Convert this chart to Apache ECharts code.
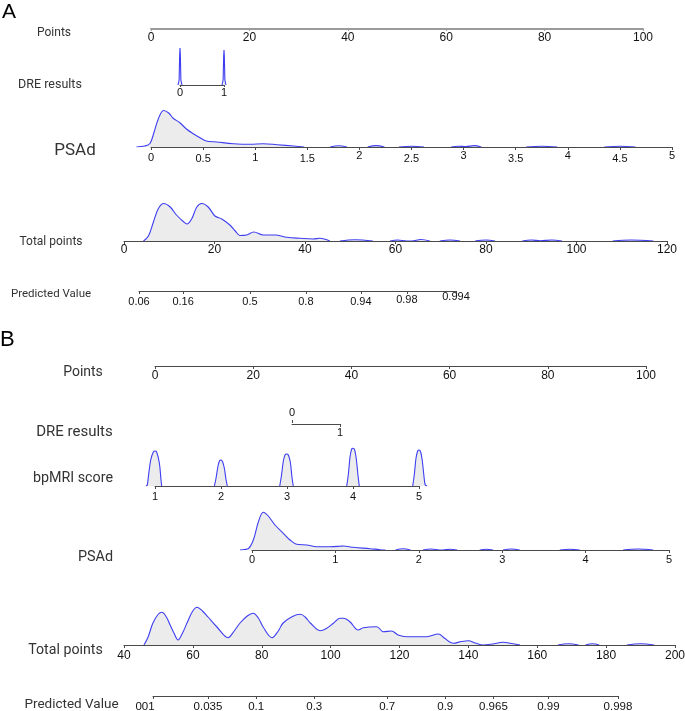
<!DOCTYPE html>
<html><head><meta charset="utf-8">
<script src="https://cdn.jsdelivr.net/npm/echarts@6/dist/echarts.min.js"></script>
<style>html,body{margin:0;padding:0;background:#fff}#c{width:685px;height:711px}</style>
</head><body><div id="c"></div>
<script>
// ---------------- DATA ----------------
const rowNamesA = ['Points', 'DRE results', 'PSAd', 'Total points', 'Predicted Value'];
const rowNamesB = ['Points', 'DRE results', 'bpMRI score', 'PSAd', 'Total points', 'Predicted Value'];
const panelNames = ['A', 'B'];

const predA_values = [0.06, 0.16, 0.5, 0.8, 0.94, 0.98, 0.994];
const predA_labels = ['0.06', '0.16', '0.5', '0.8', '0.94', '0.98', '0.994'];
const predB_values = [0.01, 0.035, 0.1, 0.3, 0.7, 0.9, 0.965, 0.99, 0.998];
const predB_labels = ['001', '0.035', '0.1', '0.3', '0.7', '0.9', '0.965', '0.99', '0.998'];

const dreA_density = [[-0.045,0],[-0.02,5],[-0.008,30],[0,37],[0.008,30],[0.02,5],[0.045,0],[0.5,'-'],
  [0.955,0],[0.98,5],[0.992,28],[1,35],[1.008,28],[1.02,5],[1.045,0]];

const psadA_density = [[-0.14,0],[-0.06,1],[-0.01,3.5],[0.03,15],[0.07,28],[0.12,36.5],[0.17,34],[0.21,29],
  [0.28,24],[0.34,18],[0.41,13],[0.47,9.3],[0.53,6],[0.63,5],[0.79,3.3],[0.95,2.7],[1.08,3.3],[1.21,2.3],
  [1.37,1],[1.47,0],[1.6,'-'],[1.72,0],[1.8,1.2],[1.88,0],[2.0,'-'],[2.08,0],[2.16,1.4],[2.24,0],[2.3,'-'],
  [2.38,0],[2.5,0.8],[2.62,0],[2.7,'-'],[2.88,0],[2.95,0.8],[3.02,0.4],[3.1,1.4],[3.17,0],[3.3,'-'],
  [3.6,0],[3.75,0.8],[3.9,0],[4.1,'-'],[4.35,0],[4.5,0.8],[4.65,0]];

const totalA_density = [[4.3,0],[5.4,5],[6.5,19],[7.6,32.5],[8.8,37.5],[10.2,34],[11.6,26],[13.1,19.5],
  [13.9,17],[15,22.5],[16.1,34],[17.2,37.5],[18.6,34],[20.1,25],[21.6,22],[23.4,16],[24.6,10],[25.6,5.5],
  [27.1,6],[28.7,9],[30.8,6],[33.4,6],[36,3.7],[38.9,2.7],[41.8,2],[43.3,2.7],[45.5,0],[46.5,'-'],
  [47.7,0],[51,1.2],[55,0],[57,'-'],[58.8,0],[60.5,1],[62.5,0],[63.6,0],[65.6,1.5],[67.6,0],[68.5,'-'],
  [69.8,0],[72,1],[74.3,0],[76,'-'],[77.6,0],[80,1],[82,0],[85,'-'],[88,0],[90,1],[92,0.3],[94.5,1],
  [96.8,0],[100,'-'],[108,0],[112,1],[117,0]];

const bpmri_density = [[0.864,0],[0.883,1],[0.899,9],[0.935,26],[0.975,34],[1.0,35],[1.025,34],[1.066,23],
  [1.091,6],[1.101,0],[1.5,'-'],
  [1.90,0],[1.925,8],[1.955,20],[1.98,25.5],[2.0,26],[2.025,24],[2.05,18],[2.075,7],[2.095,0],[2.5,'-'],
  [2.89,0],[2.915,10],[2.945,25],[2.97,31],[2.995,32],[3.02,31],[3.05,24],[3.075,9],[3.095,0],[3.5,'-'],
  [3.905,0],[3.93,12],[3.955,29],[3.98,37],[4.0,37.7],[4.025,36],[4.05,27],[4.075,11],[4.095,0],[4.5,'-'],
  [4.905,0],[4.93,12],[4.955,28],[4.98,35],[5.0,36],[5.025,34],[5.05,25],[5.075,10],[5.095,1],[5.125,0]];

const psadB_density = [[-0.144,0],[-0.09,0.5],[-0.044,1.3],[0.016,10],[0.076,28],[0.135,37.7],[0.195,34],
  [0.276,25],[0.375,16.7],[0.456,10],[0.536,5.7],[0.656,5],[0.776,3.3],[0.935,3.3],[1.055,3.7],[1.095,4],
  [1.215,2.7],[1.415,1.3],[1.535,0.3],[1.6,0],[1.65,'-'],[1.72,0],[1.81,1.2],[1.9,0],[1.95,'-'],
  [2.05,0],[2.15,1],[2.25,0],[2.29,0],[2.37,0.8],[2.46,0],[2.6,'-'],[2.73,0],[2.81,0.8],[2.89,0],[2.95,'-'],
  [3.01,0],[3.11,1],[3.21,0],[3.4,'-'],[3.69,0],[3.81,0.8],[3.93,0],[4.2,'-'],[4.45,0],[4.63,1],[4.81,0]];

const totalB_density = [[45.8,0],[47,8],[48.4,22],[50,31],[51,32.7],[52.3,28],[53.4,20],[54.5,12],[55.7,5],
  [57,12],[58.3,22],[59.8,33],[61.2,37.7],[62.8,34],[64.4,28],[67,18],[70.2,7.3],[72,14],[73.7,22],
  [75.8,29],[77.5,31.7],[79,27],[80.4,18],[83,7.3],[84.8,14],[86.2,22],[88.8,28.3],[91.2,30.7],[92.6,28],
  [94.1,22],[97,14.3],[98.5,16],[100.8,21.7],[102.7,26.7],[103.7,26.7],[105.6,23.3],[108,15],[109.5,17.3],
  [113.4,18.3],[115.3,13.3],[117.7,14],[119.6,10],[122.1,8.3],[127.9,8.3],[131.3,11],[133,7],[135.6,1.7],
  [138,3.5],[140,4.3],[142,2],[144.3,0],[147,1],[150.1,2.7],[153,1.2],[155,0],[160,'-'],
  [166,0],[169,1.2],[172,0],[173,'-'],[174,0],[176,1.2],[178,0],[182,'-'],[186,0],[190,1.2],[194,0]];

// ---------------- LAYOUT ----------------
const logit = p => Math.log(p / (1 - p));
const LINE = '#4a4a4a';
const BLUE = '#3d3df2';
const FILL = '#ececec';

const rows = [
  {key:'pointsA', x0:151, x1:643, y:29,  h:1,  min:0, max:100, interval:20, font:12, margin:3, tick:2, color:'#9a9a9a', width:2},
  {key:'dreA',    x0:180, x1:224, y:85,  h:40, min:0, max:1, interval:1, font:11, margin:2.5, tick:2, pad:0.2},
  {key:'psadA',   x0:151, x1:672, y:147, h:40, min:0, max:5, interval:0.5, font:11, margin:3.5, tick:3, jitter:true, pad:0.3},
  {key:'totalA',  x0:124, x1:667, y:241, h:40, min:0, max:120, interval:20, font:12, margin:3, tick:3, pad:5},
  {key:'predA',   x0:139, x1:456, y:291, h:1,  pred:'A', font:11, margin:0, tick:3},
  {key:'pointsB', x0:155, x1:646, y:366, h:1,  min:0, max:100, interval:20, font:12, margin:4, tick:3},
  {key:'dreB',    x0:292, x1:340, y:424, h:1,  min:0, max:1, font:11, margin:3.5, tick:3, dreB:true},
  {key:'bpmri',   x0:155, x1:419, y:486, h:40, min:1, max:5, interval:1, font:11, margin:5, tick:3, pad:0.3},
  {key:'psadB',   x0:252, x1:669, y:550, h:40, min:0, max:5, interval:1, font:11, margin:4.5, tick:3, pad:0.3},
  {key:'totalB',  x0:124, x1:675, y:645, h:40, min:40, max:200, interval:20, font:12, margin:4.5, tick:3, pad:5},
  {key:'predB',   x0:153, x1:618, y:696, h:1,  pred:'B', font:11.5, margin:4.5, tick:3}
];

const densities = {dreA: dreA_density, psadA: psadA_density, totalA: totalA_density,
  bpmri: bpmri_density, psadB: psadB_density, totalB: totalB_density};

const rowLabelPos = [
  {x:54, y:33, size:12}, {x:50, y:85, size:12.5}, {x:75, y:151, size:17}, {x:51, y:241.5, size:12}, {x:51, y:294.5, size:11.5},
  {x:83, y:372, size:14}, {x:74.5, y:432, size:15}, {x:73, y:478.5, size:14.3}, {x:95.5, y:557.5, size:14.4},
  {x:65.5, y:650, size:14.2}, {x:71.5, y:705, size:13.5}
];
const panelPos = [{x:2, y:12.5, size:21}, {x:0, y:340, size:22}];

const TICKFONT = 'Liberation Sans, Arial, sans-serif';
const ROWFONT = 'Roboto, sans-serif';

// ---------------- BUILD ----------------
const grid = [], xAxis = [], yAxis = [], series = [];

rows.forEach((r, i) => {
  const gi = grid.length;
  grid.push({left:r.x0, width:r.x1 - r.x0, top:r.y - r.h, height:r.h, containLabel:false, outerBoundsMode:'none'});
  yAxis.push({gridIndex:gi, type:'value', show:false, min:0, max:r.h});
  const lineColor = r.color || LINE;
  const base = {
    type:'value', gridIndex:gi, position:'bottom', z:3,
    splitLine:{show:false},
    axisLine:{show:true, onZero:false, lineStyle:{color:lineColor, width:r.width || 1}},
    axisTick:{show:true, length:r.tick, lineStyle:{color:lineColor, width:1}},
    axisLabel:{show:true, margin:r.margin, fontSize:r.font, fontFamily:TICKFONT, color:'#111'}
  };
  if (r.pred) {
    const vals = r.pred === 'A' ? predA_values : predB_values;
    const labs = r.pred === 'A' ? predA_labels : predB_labels;
    const pos = vals.map(logit);
    base.min = pos[0]; base.max = pos[pos.length - 1];
    base.axisTick.customValues = pos;
    base.axisLabel.customValues = pos;
    base.axisLabel.formatter = v => {
      let k = 0, best = Infinity;
      pos.forEach((p, j) => { const d = Math.abs(p - v); if (d < best) { best = d; k = j; } });
      const t = labs[k];
      if (r.pred === 'A') return t === '0.994' ? '{u|' + t + '}' : (t === '0.98' ? '{m|' + t + '}' : '{d|' + t + '}');
      return k === 0 ? '{l|' + t + '}' : '{n|' + t + '}';
    };
    const rs = {fontSize:r.font, fontFamily:TICKFONT, color:'#111'};
    base.axisLabel.rich = {
      u: Object.assign({}, rs), m: Object.assign({padding:[3.5,0,0,0]}, rs), d: Object.assign({padding:[5,0,0,0]}, rs),
      l: Object.assign({padding:[0,16,0,0]}, rs), n: Object.assign({}, rs)
    };
    xAxis.push(base);
  } else if (r.dreB) {
    base.min = r.min; base.max = r.max;
    base.axisTick.customValues = [1];
    base.axisLabel.customValues = [1];
    xAxis.push(base);
    xAxis.push({
      type:'value', gridIndex:gi, position:'top', min:r.min, max:r.max, z:3,
      splitLine:{show:false},
      axisLine:{show:false, onZero:false},
      axisTick:{show:true, length:3, customValues:[0], lineStyle:{color:lineColor}},
      axisLabel:{show:true, customValues:[0], margin:4.5, fontSize:r.font, fontFamily:TICKFONT, color:'#111'}
    });
  } else {
    base.min = r.min; base.max = r.max; base.interval = r.interval;
    if (r.jitter) {
      const rs = {fontSize:r.font, fontFamily:TICKFONT, color:'#111'};
      base.axisLabel.formatter = v => (Math.round(v * 2) % 2 ? '{lo|' + v + '}' : (v === 0 || v === 1 ? '{md|' + v + '}' : '{hi|' + v + '}'));
      base.axisLabel.rich = {lo: Object.assign({padding:[2.5,0,0,0]}, rs), md: Object.assign({padding:[1.5,0,0,0]}, rs), hi: Object.assign({}, rs)};
    }
    xAxis.push(base);
  }
});

// density rows: a hidden, slightly wider grid on the same scale so curves can run past the axis ends
rows.forEach(r => {
  const d = densities[r.key];
  if (!d) return;
  const pxPerUnit = (r.x1 - r.x0) / (r.max - r.min);
  const emin = r.min - r.pad, emax = r.max + r.pad;
  const gi = grid.length;
  grid.push({left:r.x0 - r.pad * pxPerUnit, width:(emax - emin) * pxPerUnit, top:r.y - r.h, height:r.h,
    containLabel:false, outerBoundsMode:'none'});
  const xi = xAxis.length, yi = yAxis.length;
  xAxis.push({type:'value', gridIndex:gi, show:false, min:emin, max:emax, splitLine:{show:false}});
  yAxis.push({type:'value', gridIndex:gi, show:false, min:0, max:r.h, splitLine:{show:false}});
  series.push({
    type:'line', xAxisIndex:xi, yAxisIndex:yi, data:d,
    showSymbol:false, symbol:'none', smooth: r.key === 'dreA' ? false : 0.35, silent:true,
    connectNulls:false, z:2,
    lineStyle:{color:BLUE, width:1.1},
    areaStyle:{color:FILL, opacity:1}
  });
});

const graphic = [];
const allNames = rowNamesA.concat(rowNamesB);
allNames.forEach((t, i) => {
  const p = rowLabelPos[i];
  graphic.push({type:'text', x:p.x, y:p.y, silent:true,
    style:{text:t, fill:'#333', font:p.size + 'px ' + ROWFONT, align:'center', verticalAlign:'middle'}});
});
panelNames.forEach((t, i) => {
  const p = panelPos[i];
  graphic.push({type:'text', x:p.x, y:p.y, silent:true,
    style:{text:t, fill:'#000', font:p.size + 'px ' + TICKFONT, align:'left', verticalAlign:'middle'}});
});

const chart = echarts.init(document.getElementById('c'), null, {renderer:'canvas'});
chart.setOption({animation:false, backgroundColor:'#fff', grid, xAxis, yAxis, series, graphic});
</script></body></html>
